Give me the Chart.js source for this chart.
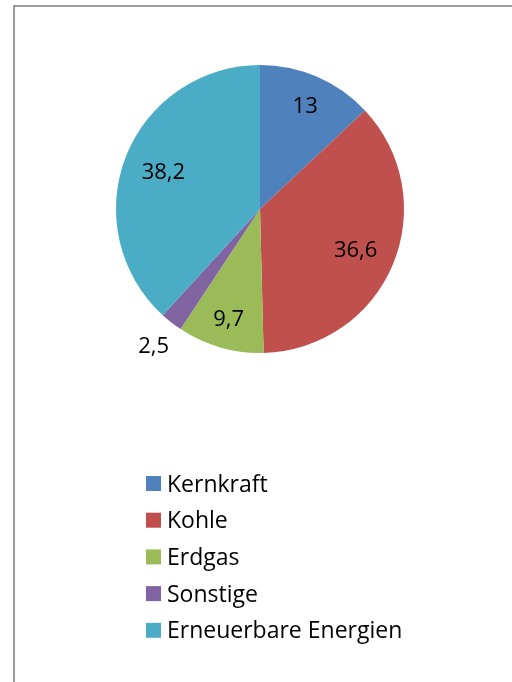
<!DOCTYPE html>
<html lang="de">
<head>
  <meta charset="UTF-8">
  <title>Strommix</title>
  <script src="https://cdn.jsdelivr.net/npm/chart.js"></script>
  <style>
    html, body { margin: 0; padding: 0; background: #fff; }
    #wrap { position: relative; width: 512px; height: 682px; }
  </style>
</head>
<body>
  <div id="wrap"><canvas id="pieChart" width="512" height="682"></canvas></div>
  <script>
    // Anteile in Prozent
    const labels = ['Kernkraft', 'Kohle', 'Erdgas', 'Sonstige', 'Erneuerbare Energien'];
    const values = [13, 36.6, 9.7, 2.5, 38.2];
    const colors = ['#4F81BD', '#C0504D', '#9BBB59', '#8064A2', '#4BACC6'];

    const FONT = '"Open Sans", "Lato", sans-serif';

    // grauer Rahmen oben und links
    const framePlugin = {
      id: 'frame',
      beforeDraw(chart) {
        const ctx = chart.ctx;
        ctx.save();
        ctx.strokeStyle = '#9c9c9c';
        ctx.lineWidth = 2;
        ctx.beginPath();
        ctx.moveTo(14, 682);
        ctx.lineTo(14, 6);
        ctx.lineTo(512, 6);
        ctx.stroke();
        ctx.restore();
      }
    };

    // Datenbeschriftungen (mit Komma als Dezimaltrenner)
    const labelPlugin = {
      id: 'sliceLabels',
      afterDatasetsDraw(chart) {
        const ctx = chart.ctx;
        const meta = chart.getDatasetMeta(0);
        ctx.save();
        ctx.font = '22px ' + FONT;
        ctx.fillStyle = '#000';
        ctx.textAlign = 'center';
        ctx.textBaseline = 'alphabetic';
        meta.data.forEach((arc, i) => {
          const p = arc.getProps(['x', 'y', 'startAngle', 'endAngle', 'outerRadius']);
          const mid = (p.startAngle + p.endAngle) / 2;
          // kleine Segmente außen, große etwas weiter innen
          let f = 0.79;
          if (values[i] < 5) f = 1.2;
          else if (values[i] > 30) f = 0.72;
          const x = p.x + Math.cos(mid) * p.outerRadius * f;
          const y = p.y + Math.sin(mid) * p.outerRadius * f;
          ctx.fillText(String(values[i]).replace('.', ','), x, y + 8);
        });
        ctx.restore();
      }
    };

    // Legende untereinander, linksbündig
    const legendPlugin = {
      id: 'columnLegend',
      afterDraw(chart) {
        const ctx = chart.ctx;
        ctx.save();
        ctx.font = '23px ' + FONT;
        ctx.textBaseline = 'alphabetic';
        labels.forEach((lab, i) => {
          const y = 483.5 + i * 36.7;
          ctx.fillStyle = colors[i];
          ctx.fillRect(146, y - 7.5, 15, 15);
          ctx.fillStyle = '#000';
          ctx.fillText(lab, 167, y + 8);
        });
        ctx.restore();
      }
    };

    new Chart(document.getElementById('pieChart').getContext('2d'), {
      type: 'pie',
      data: {
        labels: labels,
        datasets: [{
          data: values,
          backgroundColor: colors,
          borderWidth: 0
        }]
      },
      options: {
        responsive: false,
        animation: false,
        layout: { padding: { left: 116, right: 108, top: 65, bottom: 329 } },
        plugins: {
          legend: { display: false },
          tooltip: { enabled: false }
        }
      },
      plugins: [framePlugin, labelPlugin, legendPlugin]
    });
  </script>
</body>
</html>
